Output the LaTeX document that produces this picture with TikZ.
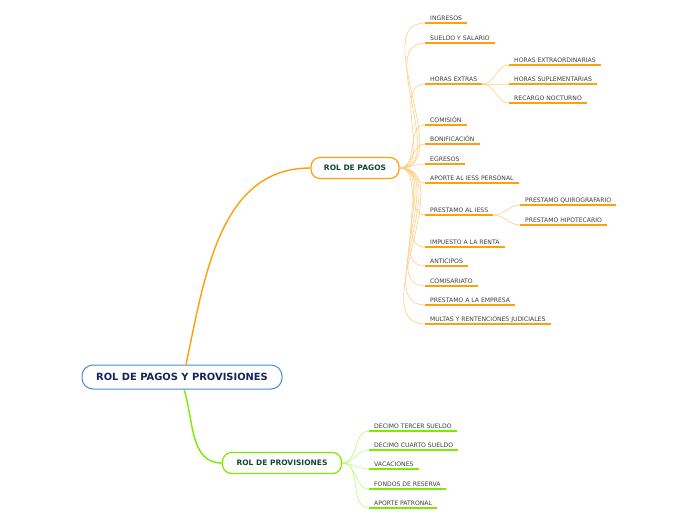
\documentclass[tikz,border=0pt]{standalone}
\usepackage{fontspec}
\setmainfont{DejaVu Sans}
\definecolor{rootblue}{RGB}{70,140,210}
\definecolor{rootink}{RGB}{22,38,88}
\definecolor{branchink}{RGB}{22,70,52}
\definecolor{leafink}{RGB}{60,60,60}
\definecolor{orng}{RGB}{255,160,10}
\definecolor{orngpale}{RGB}{255,205,130}
\definecolor{grn}{RGB}{125,235,0}
\definecolor{grnpale}{RGB}{190,250,120}
\tikzset{
	leaf/.style={font=\fontsize{6.1}{7}\selectfont, text=leafink, anchor=south west,
		inner xsep=5pt, inner ysep=2.2pt, text depth=0pt,
		append after command={(\tikzlastnode.south west) edge[line width=1.4pt,#1] (\tikzlastnode.south east)}},
	topic/.style={draw=#1, line width=1.2pt, fill=white, rounded corners=9pt,
		font=\bfseries\fontsize{7.5}{8}\selectfont, text=branchink, minimum height=21pt},
	twig/.style={#1, line width=0.6pt},
	stem/.style={#1, line width=1.4pt}
}
\begin{document}
\begin{tikzpicture}[x=1pt,y=1pt]
	\useasboundingbox (0,0) rectangle (696,-520);
	% central topic
	\node[draw=rootblue, line width=1pt, fill=white, rounded corners=11pt,
		minimum width=200pt, minimum height=24pt, text=rootink,
		font=\bfseries\fontsize{9.9}{11}\selectfont] (root) at (182,-377)
		{ROL DE PAGOS Y PROVISIONES};
	\node[topic=orng, minimum width=88pt] (pagos) at (355,-168) {ROL DE PAGOS};
	\node[topic=grn, minimum width=119pt] (provis) at (282,-463) {ROL DE PROVISIONES};
	\draw[stem=orng] ([xshift=4pt]root.north) to[out=78,in=180] (pagos.west);
	\draw[stem=grn] ([xshift=2pt]root.south) to[out=-72,in=180] (provis.west);
	% rol de pagos
	\node[leaf=orng] (ingresos) at (425,-23) {INGRESOS};
	\node[leaf=orng] (sueldo) at (425,-43) {SUELDO Y SALARIO};
	\node[leaf=orng] (horasx) at (425,-84) {HORAS EXTRAS};
	\node[leaf=orng] (extraord) at (509,-65) {HORAS EXTRAORDINARIAS};
	\node[leaf=orng] (suplem) at (509,-84) {HORAS SUPLEMENTARIAS};
	\node[leaf=orng] (nocturno) at (509,-103) {RECARGO NOCTURNO};
	\node[leaf=orng] (comision) at (425,-125) {COMISIÓN};
	\node[leaf=orng] (bonif) at (425,-144) {BONIFICACIÓN};
	\node[leaf=orng] (egresos) at (425,-164) {EGRESOS};
	\node[leaf=orng] (aporte) at (425,-183) {APORTE AL IESS PERSONAL};
	\node[leaf=orng] (prestiess) at (425,-215) {PRESTAMO AL IESS};
	\node[leaf=orng] (quirog) at (520,-205) {PRESTAMO QUIROGRAFARIO};
	\node[leaf=orng] (hipot) at (520,-225) {PRESTAMO HIPOTECARIO};
	\node[leaf=orng] (impuesto) at (425,-247) {IMPUESTO A LA RENTA};
	\node[leaf=orng] (anticipos) at (425,-266) {ANTICIPOS};
	\node[leaf=orng] (comisariato) at (425,-286) {COMISARIATO};
	\node[leaf=orng] (prestemp) at (425,-305) {PRESTAMO A LA EMPRESA};
	\node[leaf=orng] (multas) at (425,-324) {MULTAS Y RENTENCIONES JUDICIALES};
	\foreach \n in {ingresos,sueldo,horasx,comision,bonif,egresos,aporte,
		prestiess,impuesto,anticipos,comisariato,prestemp,multas}
		\draw[twig=orngpale] (pagos.east) to[out=0,in=180] (\n.south west);
	\foreach \n in {extraord,suplem,nocturno}
		\draw[twig=orngpale] (horasx.south east) to[out=0,in=180] (\n.south west);
	\foreach \n in {quirog,hipot}
		\draw[twig=orngpale] (prestiess.south east) to[out=0,in=180] (\n.south west);
	% rol de provisiones
	\node[leaf=grn] (tercer) at (369,-431) {DECIMO TERCER SUELDO};
	\node[leaf=grn] (cuarto) at (369,-450) {DECIMO CUARTO SUELDO};
	\node[leaf=grn] (vacaciones) at (369,-469) {VACACIONES};
	\node[leaf=grn] (fondos) at (369,-489) {FONDOS DE RESERVA};
	\node[leaf=grn] (patronal) at (369,-508) {APORTE PATRONAL};
	\foreach \n in {tercer,cuarto,vacaciones,fondos,patronal}
		\draw[twig=grnpale] (provis.east) to[out=0,in=180] (\n.south west);
\end{tikzpicture}
\end{document}
